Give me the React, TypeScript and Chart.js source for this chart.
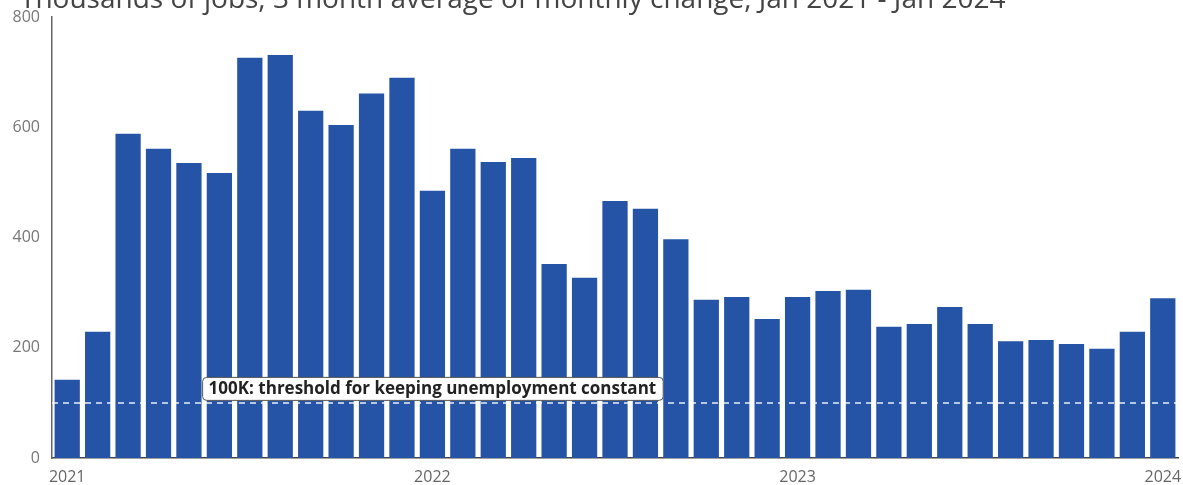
import React, { useEffect, useRef } from "react";
import { Chart, registerables } from "chart.js";

Chart.register(...registerables);

const TITLE = "Thousands of jobs, 3 month average of monthly change, Jan 2021 - Jan 2024";

const months: string[] = [
  "2021-01", "2021-02", "2021-03", "2021-04", "2021-05", "2021-06", "2021-07", "2021-08", "2021-09", "2021-10", "2021-11", "2021-12",
  "2022-01", "2022-02", "2022-03", "2022-04", "2022-05", "2022-06", "2022-07", "2022-08", "2022-09", "2022-10", "2022-11", "2022-12",
  "2023-01", "2023-02", "2023-03", "2023-04", "2023-05", "2023-06", "2023-07", "2023-08", "2023-09", "2023-10", "2023-11", "2023-12",
  "2024-01",
];

const jobsChange: number[] = [
  142, 229, 588, 561, 535, 517, 726, 731, 630, 604, 661, 690,
  485, 561, 537, 544, 352, 327, 466, 452, 397, 287, 292, 252,
  292, 303, 305, 238, 243, 274, 243, 212, 214, 207, 198, 229,
  290,
];

const yTicks: number[] = [0, 200, 400, 600, 800];

const thresholdValue = 100;
const thresholdLabel = "100K: threshold for keeping unemployment constant";
const thresholdLabelAt = "2022-01";

const titlePlugin = {
  id: "cutTitle",
  afterDraw(chart: any) {
    const ctx = chart.ctx;
    ctx.save();
    ctx.font = '28px "Open Sans"';
    ctx.fillStyle = "#444444";
    ctx.textAlign = "left";
    ctx.textBaseline = "alphabetic";
    ctx.fillText(TITLE, 20, 8);
    ctx.restore();
  },
};

const thresholdPlugin = {
  id: "threshold",
  afterDatasetsDraw(chart: any) {
    const ctx = chart.ctx;
    const { left, right } = chart.chartArea;
    const y = chart.scales.y.getPixelForValue(thresholdValue);
    ctx.save();
    ctx.strokeStyle = "rgba(255,255,255,0.9)";
    ctx.lineWidth = 1.5;
    ctx.setLineDash([6, 5]);
    ctx.beginPath();
    ctx.moveTo(left, y);
    ctx.lineTo(right, y);
    ctx.stroke();
    ctx.setLineDash([]);

    const idx = months.indexOf(thresholdLabelAt);
    const cx = chart.scales.x.getPixelForValue(idx);
    ctx.font = 'bold 17px "Open Sans"';
    const w = ctx.measureText(thresholdLabel).width + 13;
    const h = 23;
    const bx = cx - w / 2;
    const by = y - 3 - h;
    ctx.fillStyle = "#ffffff";
    ctx.strokeStyle = "#555555";
    ctx.lineWidth = 1;
    ctx.beginPath();
    ctx.roundRect(bx + 0.5, by + 0.5, w, h, 4);
    ctx.fill();
    ctx.stroke();
    ctx.fillStyle = "#222222";
    ctx.textAlign = "center";
    ctx.textBaseline = "middle";
    ctx.fillText(thresholdLabel, cx, by + h / 2 + 1);
    ctx.restore();
  },
};

export default function App() {
  const ref = useRef<HTMLCanvasElement | null>(null);

  useEffect(() => {
    if (!ref.current) return;
    const chart = new Chart(ref.current, {
      type: "bar",
      data: {
        labels: months,
        datasets: [
          {
            data: jobsChange,
            backgroundColor: "#2554a7",
            borderWidth: 0,
            categoryPercentage: 1,
            barPercentage: 0.83,
          },
        ],
      },
      options: {
        animation: false,
        responsive: false,
        maintainAspectRatio: false,
        layout: { padding: { top: 17, right: 5, left: 0, bottom: 0 } },
        plugins: {
          legend: { display: false },
          tooltip: { enabled: false },
          title: { display: false },
        },
        scales: {
          x: {
            type: "category",
            grid: { display: false, drawTicks: false },
            border: { display: true, color: "#444444", width: 1.5 },
            ticks: {
              autoSkip: false,
              maxRotation: 0,
              padding: 10,
              color: "#666666",
              font: { family: "Open Sans", size: 16 },
              callback: (_v: any, i: number) => (months[i].endsWith("-01") ? months[i].slice(0, 4) : ""),
            },
            afterFit: (s: any) => {
              s.height = 27;
              s.paddingLeft = 0;
              s.paddingRight = 0;
            },
          },
          y: {
            min: 0,
            max: 800,
            afterBuildTicks: (s: any) => {
              s.ticks = yTicks.map((v) => ({ value: v }));
            },
            grid: { display: false, drawTicks: false },
            border: { display: true, color: "#666666", width: 1.5 },
            ticks: {
              padding: 12,
              color: "#777777",
              font: { family: "Open Sans", size: 16 },
            },
            afterFit: (s: any) => {
              s.width = 52;
              s.paddingTop = 0;
              s.paddingBottom = 0;
            },
          },
        },
      },
      plugins: [titlePlugin, thresholdPlugin],
    });
    return () => chart.destroy();
  }, []);

  return (
    <div style={{ position: "absolute", left: 0, top: 0, width: 1183, height: 485, background: "#ffffff" }}>
      <canvas ref={ref} width={1183} height={485} style={{ width: 1183, height: 485, display: "block" }} />
    </div>
  );
}
